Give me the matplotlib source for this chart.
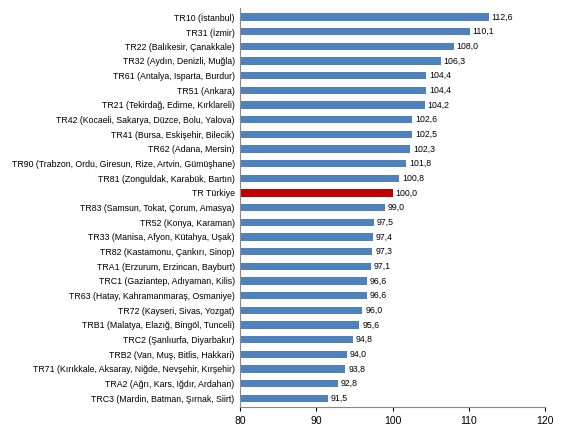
import matplotlib
matplotlib.use("Agg")
import matplotlib.pyplot as plt

plt.rcParams['font.family'] = ['Liberation Sans', 'DejaVu Sans']

categories = [
    "TR10 (İstanbul)", "TR31 (İzmir)", "TR22 (Balıkesir, Çanakkale)",
    "TR32 (Aydın, Denizli, Muğla)", "TR61 (Antalya, Isparta, Burdur)",
    "TR51 (Ankara)", "TR21 (Tekirdağ, Edirne, Kırklareli)",
    "TR42 (Kocaeli, Sakarya, Düzce, Bolu, Yalova)", "TR41 (Bursa, Eskişehir, Bilecik)",
    "TR62 (Adana, Mersin)", "TR90 (Trabzon, Ordu, Giresun, Rize, Artvin, Gümüşhane)",
    "TR81 (Zonguldak, Karabük, Bartın)", "TR Türkiye",
    "TR83 (Samsun, Tokat, Çorum, Amasya)", "TR52 (Konya, Karaman)",
    "TR33 (Manisa, Afyon, Kütahya, Uşak)", "TR82 (Kastamonu, Çankırı, Sinop)",
    "TRA1 (Erzurum, Erzincan, Bayburt)", "TRC1 (Gaziantep, Adıyaman, Kilis)",
    "TR63 (Hatay, Kahramanmaraş, Osmaniye)", "TR72 (Kayseri, Sivas, Yozgat)",
    "TRB1 (Malatya, Elazığ, Bingöl, Tunceli)", "TRC2 (Şanlıurfa, Diyarbakır)",
    "TRB2 (Van, Muş, Bitlis, Hakkari)", "TR71 (Kırıkkale, Aksaray, Niğde, Nevşehir, Kırşehir)",
    "TRA2 (Ağrı, Kars, Iğdır, Ardahan)", "TRC3 (Mardin, Batman, Şırnak, Siirt)",
]
values = [112.6, 110.1, 108.0, 106.3, 104.4, 104.4, 104.2, 102.6, 102.5, 102.3,
          101.8, 100.8, 100.0, 99.0, 97.5, 97.4, 97.3, 97.1, 96.6, 96.6, 96.0,
          95.6, 94.8, 94.0, 93.8, 92.8, 91.5]
xticks = [80, 90, 100, 110, 120]

fig = plt.figure(figsize=(5.72, 4.29), dpi=100)
ax = fig.add_axes([0.42, 0.051, 0.533, 0.93])
n = len(values)
ypos = list(range(n))[::-1]
colors = ['#C00000' if c == "TR Türkiye" else '#4F81BD' for c in categories]
ax.barh(ypos, [v - 80 for v in values], left=80, height=0.5, color=colors)
for y, v in zip(ypos, values):
    ax.text(v + 0.4, y, f"{v:.1f}".replace('.', ','), va='center', ha='left', fontsize=6.3)
ax.set_xlim(80, 120)
ax.set_ylim(-0.6, n - 0.4)
ax.set_xticks(xticks)
ax.set_xticklabels([str(t) for t in xticks], fontsize=7.5)
ax.set_yticks(ypos)
ax.set_yticklabels(categories, fontsize=6.3)
ax.tick_params(axis='y', length=0, pad=4)
ax.tick_params(axis='x', length=3, direction='out')
for s in ['top', 'right']:
    ax.spines[s].set_visible(False)
ax.spines['left'].set_color('#888888')
ax.spines['bottom'].set_color('#888888')
fig.savefig("out.png", dpi=100)
